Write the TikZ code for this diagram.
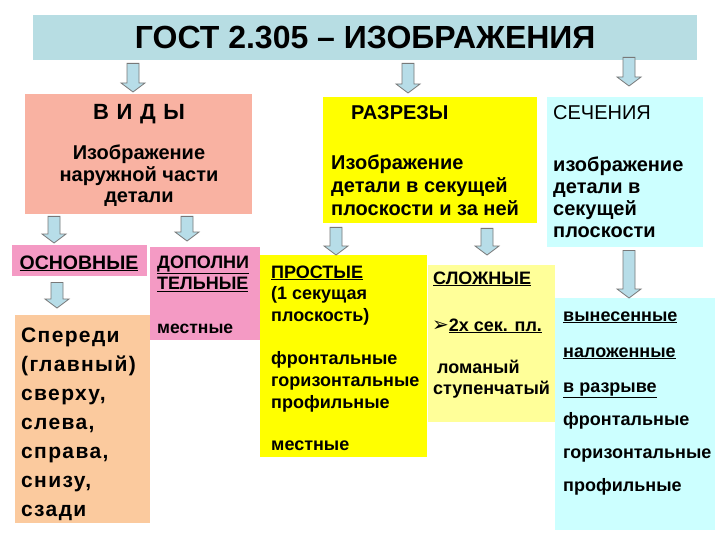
\documentclass[tikz,border=0pt]{standalone}
\usepackage{fontspec}
\setmainfont{Liberation Sans}
\newfontfamily\spread[LetterSpace=6.5]{Liberation Sans}
\newfontfamily\symb{DejaVu Sans}
\usetikzlibrary{calc}
\definecolor{tbar}{RGB}{183,221,227}
\definecolor{arrfill}{RGB}{183,221,232}
\definecolor{arrline}{RGB}{120,120,120}
\definecolor{salmon}{RGB}{249,178,162}
\definecolor{yel}{RGB}{255,255,0}
\definecolor{lyel}{RGB}{255,255,153}
\definecolor{lcyan}{RGB}{204,255,255}
\definecolor{pinkbox}{RGB}{244,154,196}
\definecolor{peach}{RGB}{251,202,158}
\newcommand\fs[2]{\fontsize{#1}{#2}\selectfont}
\newcommand\blockdown[3]{%
  \draw[blockarr] let \p1=(#2), \p2=(#3) in
    (#1pt-6pt,\y1) -- (#1pt+6pt,\y1) -- (#1pt+6pt,\y2+9pt) -- (#1pt+12pt,\y2+9pt)
    -- (#1pt,\y2) -- (#1pt-12pt,\y2+9pt) -- (#1pt-6pt,\y2+9pt) -- cycle;}
\tikzset{
  box/.style={rectangle, inner sep=0pt, anchor=north west},
  txt/.style={inner sep=0pt, anchor=base west, align=left, font=\bfseries\fs{18}{22}},
  blockarr/.style={draw=arrline, fill=arrfill, line width=0.8pt, line join=miter}
}
\begin{document}
\begin{tikzpicture}[x=1pt, y=-1pt]
\useasboundingbox[fill=white] (0,0) rectangle (720,540);
% boxes
\node[box, fill=tbar, minimum width=664pt, minimum height=45pt, font=\bfseries\fs{32}{34}] (gost) at (33,15) {ГОСТ 2.305 – ИЗОБРАЖЕНИЯ};
\node[box, fill=salmon, minimum width=227pt, minimum height=120pt] (vidy) at (25,94) {};
\node[box, fill=yel, minimum width=214pt, minimum height=126pt] (razr) at (323,97) {};
\node[box, fill=lcyan, minimum width=156pt, minimum height=150pt] (sech) at (547,97) {};
\node[box, fill=pinkbox, minimum width=135pt, minimum height=31pt] (osn) at (12,245) {};
\node[box, fill=pinkbox, minimum width=110pt, minimum height=93pt] (dop) at (150,247) {};
\node[box, fill=peach, minimum width=135pt, minimum height=208pt] (sper) at (15,315) {};
\node[box, fill=yel, minimum width=167pt, minimum height=202pt] (prost) at (260,255) {};
\node[box, fill=lyel, minimum width=127pt, minimum height=157pt] (slozh) at (428,265) {};
\node[box, fill=lcyan, minimum width=160pt, minimum height=232pt] (vyn) at (555,298) {};
% arrows
\blockdown{133}{[yshift=-3pt]gost.south}{[yshift=2pt]vidy.north}
\blockdown{408}{[yshift=-3pt]gost.south}{[yshift=4pt]razr.north}
\blockdown{629}{[yshift=3pt]gost.south}{[yshift=11pt]sech.north}
\blockdown{54}{[yshift=-2pt]vidy.south}{[yshift=2pt]osn.north}
\blockdown{187}{[yshift=-2pt]vidy.south}{[yshift=6pt]dop.north}
\blockdown{57}{[yshift=-6pt]osn.south}{[yshift=7pt]sper.north}
\blockdown{336}{[yshift=-4pt]razr.south}{prost.north}
\blockdown{487}{[yshift=-5pt]razr.south}{[yshift=10pt]slozh.north}
\blockdown{629}{[yshift=-3pt]sech.south}{vyn.north}
% texts (multi-line nodes sit on their last baseline)
\node[txt, anchor=base, font=\bfseries\fs{22}{24}] (vidyt) at (139,120) {В\hspace{1.5pt} И\hspace{1.5pt} Д\hspace{1.5pt} Ы};
\node[txt, anchor=base, align=center, font=\bfseries\fs{20}{21.5}] (vidyd) at (139,203) {Изображение\\наружной части\\детали};
\node[txt, font=\bfseries\fs{20}{23}] (razrt) at (351,120) {РАЗРЕЗЫ};
\node[txt, font=\bfseries\fs{20}{23}] (razrd) at (331,215) {Изображение\\детали в секущей\\плоскости и за ней};
\node[txt, font=\fs{20}{22}] (secht) at (553,120) {СЕЧЕНИЯ};
\node[txt, font=\bfseries\fs{20}{22}] (sechd) at (553,237) {изображение\\детали в\\секущей\\плоскости};
\node[txt, anchor=base, font=\bfseries\fs{19.5}{21}] (osnt) at (79,269) {\underline{ОСНОВНЫЕ}};
\node[txt, font=\bfseries\fs{18}{21}] (dopt) at (157,289.5) {\underline{ДОПОЛНИ}\\\underline{ТЕЛЬНЫЕ}};
\node[txt, font=\bfseries\fs{17.5}{18}] (dopm) at (157,333) {местные};
\node[txt, font=\spread\bfseries\fs{21}{29}] (spert) at (21,516.5) {Спереди\\(главный)\\сверху,\\слева,\\справа,\\снизу,\\сзади};
\node[txt] (prostt) at (271,278) {\underline{ПРОСТЫЕ}};
\node[txt] (prost1) at (271,321) {(1 секущая\\плоскость)};
\node[txt] (prost2) at (271,408) {фронтальные\\горизонтальные\\профильные};
\node[txt] (prostm) at (271,450) {местные};
\node[txt] (slozht) at (433,284) {\underline{СЛОЖНЫЕ}};
\node[txt] (slozh2) at (432,331) {{\symb\bfseries\fs{20}{20}➢}\underline{2х сек. пл.}};
\node[txt, font=\bfseries\fs{18}{21}] (slozhv) at (433,394) {\hspace*{4pt}ломаный\\ступенчатый};
\node[txt, font=\bfseries\fs{18}{33}] (vynt) at (563,491) {\underline{вынесенные}\\[3pt]\underline{наложенные}\\[2pt]\underline{в разрыве}\\фронтальные\\горизонтальные\\профильные};
\end{tikzpicture}
\end{document}
